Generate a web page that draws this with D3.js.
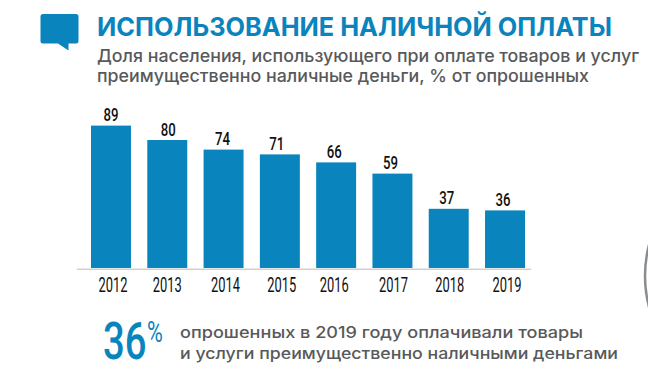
<!DOCTYPE html>
<html>
<head>
<meta charset="utf-8">
<script src="https://d3js.org/d3.v7.min.js"></script>
<style>
    html, body { margin: 0; background: #fff; }
    svg { display: block; }
</style>
</head>
<body>
<div id="chart"></div>
<script>
let years = ['2012', '2013', '2014', '2015', '2016', '2017', '2018', '2019'];
let shares = [89, 80, 74, 71, 66, 59, 37, 36];

let titleText = 'ИСПОЛЬЗОВАНИЕ НАЛИЧНОЙ ОПЛАТЫ';
let subtitleLines = [
    'Доля населения, использующего при оплате товаров и услуг',
    'преимущественно наличные деньги, % от опрошенных'
];
let noteLines = [
    'опрошенных в 2019 году оплачивали товары',
    'и услуги преимущественно наличными деньгами'
];
let noteValue = '36';

const BLUE = '#0a84bd';
const GREY = '#58595b';
const NARROW = 'Roboto, sans-serif';

let svg = d3.select('#chart').append('svg')
    .attr('width', 648)
    .attr('height', 375);

//текст с заданной шириной
function addText(x, y, str, size, weight, color, len, family) {
    return svg.append('text')
        .attr('x', x)
        .attr('y', y)
        .attr('font-family', family || 'Inter, sans-serif')
        .attr('font-size', size)
        .attr('font-weight', weight)
        .attr('fill', color)
        .attr('textLength', len)
        .attr('lengthAdjust', 'spacingAndGlyphs')
        .text(str);
}

//иконка-сообщение
svg.append('path')
    .attr('d', 'M43 14H76a2.500 2.500 0 0 1 2.500 2.500V41a2.500 2.500 0 0 1 -2.500 2.500H68.500V50.500L58 43.500H43a2.500 2.500 0 0 1 -2.500 -2.500V16.500a2.500 2.500 0 0 1 2.500 -2.500Z')
    .attr('fill', BLUE);

addText(97, 36, titleText, 25.5, 700, BLUE, 515);
addText(97, 62, subtitleLines[0], 17.5, 500, GREY, 542);
addText(97, 82, subtitleLines[1], 17.5, 500, GREY, 492);

//шкалы
let xScale = d3.scaleBand()
    .domain(years)
    .range([91, 525])
    .paddingInner(0.29)
    .paddingOuter(0);
let yScale = d3.scaleLinear()
    .domain([0, 90])
    .range([268, 124]);

svg.selectAll('rect.bar')
    .data(shares)
    .enter()
    .append('rect')
    .attr('class', 'bar')
    .attr('x', (d, i) => xScale(years[i]))
    .attr('y', d => yScale(d))
    .attr('width', xScale.bandwidth())
    .attr('height', d => yScale(0) - yScale(d))
    .attr('fill', BLUE);

//в оригинале подписи стоят не строго по центру столбцов
const valueShift = [0, 1, -1, -3, -2, -2, -2, -2];
const tickShift = [2, 0, 2, 2, -2, 1, 1, 2];

svg.selectAll('text.val')
    .data(shares)
    .enter()
    .append('text')
    .attr('class', 'val')
    .attr('x', (d, i) => xScale(years[i]) + xScale.bandwidth() / 2 + valueShift[i])
    .attr('y', d => yScale(d) - 4.5)
    .attr('text-anchor', 'middle')
    .attr('font-family', NARROW)
    .attr('font-size', 18)
    .attr('font-weight', 500)
    .attr('fill', '#111')
    .attr('textLength', 15)
    .attr('lengthAdjust', 'spacingAndGlyphs')
    .text(d => d);

//ось x
let xAxis = svg.append('g')
    .attr('class', 'axis')
    .attr('transform', 'translate(0,268)')
    .call(d3.axisBottom(xScale).tickSize(0));
xAxis.select('.domain').remove();
xAxis.selectAll('text')
    .attr('x', (d, i) => tickShift[i])
    .attr('y', 24)
    .attr('dy', 0)
    .attr('font-family', NARROW)
    .attr('font-size', 19.5)
    .attr('fill', '#111')
    .attr('textLength', 29)
    .attr('lengthAdjust', 'spacingAndGlyphs');
svg.append('line')
    .attr('x1', 77)
    .attr('x2', 531)
    .attr('y1', 269.2)
    .attr('y2', 269.2)
    .attr('stroke', '#cfd0d0')
    .attr('stroke-width', 1.5);

//подпись снизу: сжимаем через scale, чтобы рамка текста не наезжала на %
svg.append('text')
    .attr('transform', 'translate(103,359) scale(0.75,1)')
    .attr('font-family', NARROW)
    .attr('font-size', 51)
    .attr('font-weight', 500)
    .attr('fill', BLUE)
    .text(noteValue);
svg.append('text')
    .attr('transform', 'translate(147,342) scale(0.72,1)')
    .attr('font-family', NARROW)
    .attr('font-size', 30)
    .attr('font-weight', 400)
    .attr('fill', BLUE)
    .text('%');
addText(180, 338, noteLines[0], 15.5, 500, GREY, 403);
addText(180, 359, noteLines[1], 15.5, 500, GREY, 438);

//край круга справа
svg.append('circle')
    .attr('cx', 767)
    .attr('cy', 276)
    .attr('r', 122)
    .attr('fill', 'none')
    .attr('stroke', '#8a8d90')
    .attr('stroke-width', 2.5);
</script>
</body>
</html>
